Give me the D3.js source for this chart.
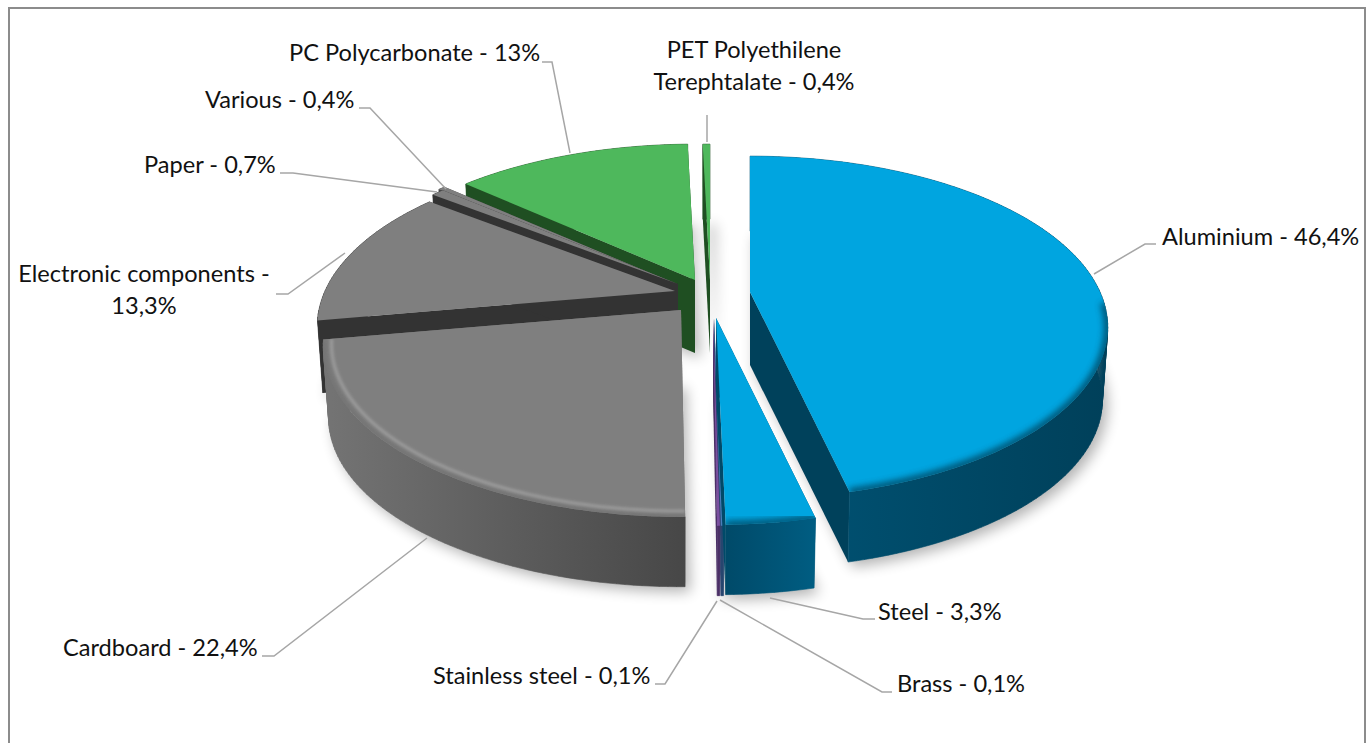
<!DOCTYPE html>
<html><head><meta charset="utf-8">
<script src="https://cdnjs.cloudflare.com/ajax/libs/d3/7.8.5/d3.min.js"></script>
<style>html,body{margin:0;padding:0;background:#fff;overflow:hidden}text{font-family:Lato,Carlito,sans-serif;font-size:23.6px;fill:#111}</style>
</head><body><svg id="c" width="1369" height="743"></svg>
<script>
const categories=["Aluminium","Steel","Brass","Stainless steel","Cardboard","Electronic components","Paper","Various","PC Polycarbonate","PET Polyethilene Terephtalate"];
const values=[46.4,3.3,0.1,0.1,22.4,13.3,0.7,0.4,13,0.4];
const valueLabels=["46,4%","3,3%","0,1%","0,1%","22,4%","13,3%","0,7%","0,4%","13%","0,4%"];

// layout only
const apex=[[750,292],[716,318],[714,319],[713,319],[681,310],[675,291],[678,284],[674,283],[695,280],[710,280]];
const tops=["#00a5e0","#00a5e0","#4a7ebb","#7a4fa0","#7f7f7f","#7f7f7f","#7f7f7f","#7f7f7f","#4eb85c","#4eb85c"];
const wallR=["#00415b","#004a69","#27466f","#4a2f66","#747474","#333333","#333333","#4a4a4a","#1f4f22","#1f4f22"];
const wallA=["#005476","#004a69","#27466f","#4a2f66","#747474","#333333","#333333","#4a4a4a","#1f4f22","#1f4f22"];
const wallB=["#00405a","#005d82","#27466f","#4a2f66","#474747","#333333","#333333","#4a4a4a","#1f4f22","#1f4f22"];
const drawOrder=[9,8,7,6,5,4,0,2,3,1];
const labelLines=[
 {x:1162,y:245,a:"start",t:["Aluminium - 46,4%"]},
 {x:878,y:620,a:"start",t:["Steel - 3,3%"]},
 {x:897,y:692,a:"start",t:["Brass - 0,1%"]},
 {x:433,y:684,a:"start",t:["Stainless steel - 0,1%"]},
 {x:63,y:656,a:"start",t:["Cardboard - 22,4%"]},
 {x:144,y:282,a:"middle",t:["Electronic components -","13,3%"]},
 {x:144,y:173,a:"start",t:["Paper - 0,7%"]},
 {x:205,y:108,a:"start",t:["Various - 0,4%"]},
 {x:289,y:61,a:"start",t:["PC Polycarbonate - 13%"]},
 {x:754,y:58,a:"middle",t:["PET Polyethilene","Terephtalate - 0,4%"]}];
const leaders=[
 [[1094,274],[1145,244],[1156,244]],
 [[770,598],[863,619],[875,619]],
 [[720,600],[882,692],[892,692]],
 [[717,601],[665,684],[655,684]],
 [[427,538],[274,656],[262,656]],
 [[345,253],[288,294],[276,294]],
 [[437,192],[293,173],[280,173]],
 [[446,189],[370,108],[359,108]],
 [[570,153],[552,62],[542,62]],
 [[707,142],[707,115]]];

const P=0.207, DEPTH=73, BOTTOM=0.985;
const sx=d3.scaleLinear().domain([-1,1]).range([-350,350]);
const sy=d3.scaleLinear().domain([-1,1]).range([-164,164]);
const rad=d3.scaleLinear().domain([0,1]).range([0,1]);
function proj(a,r,c,bottom){
  const u=rad(r)*Math.sin(a), v=-rad(r)*Math.cos(a), w=1-P*v, k=bottom?BOTTOM:1;
  return [c[0]+k*sx(u)/w, c[1]+k*sy(v)/w+(bottom?DEPTH:0)];
}
const line=d3.line();
const arcs=d3.pie().sort(null).value(d=>d)(values);
function samples(a0,a1){const n=Math.max(2,Math.ceil((a1-a0)/0.02));return d3.range(n+1).map(i=>a0+(a1-a0)*i/n);}

const svg=d3.select("#c");
const defs=svg.append("defs");
const blur=(id,s)=>defs.append("filter").attr("id",id).attr("x","-20%").attr("y","-20%").attr("width","140%").attr("height","140%").append("feGaussianBlur").attr("stdDeviation",s);
blur("shadow",7);blur("soft",3.2);blur("soft2",1.4);
arcs.forEach((d,i)=>{
  const g=defs.append("linearGradient").attr("id","w"+i).attr("gradientUnits","userSpaceOnUse");
  const xs=samples(d.startAngle,d.endAngle).map(a=>proj(a,1,apex[i])[0]);
  g.attr("x1",d3.min(xs)).attr("x2",d3.max(xs)).attr("y1",0).attr("y2",0);
  g.append("stop").attr("offset",0).attr("stop-color",wallA[i]);
  g.append("stop").attr("offset",1).attr("stop-color",wallB[i]);
  const cp=defs.append("clipPath").attr("id","t"+i);
  cp.append("path").attr("d",line([apex[i],...samples(d.startAngle,d.endAngle).map(a=>proj(a,1,apex[i]))])+"Z");
});

svg.append("rect").attr("x",9).attr("y",8).attr("width",1356).attr("height",760).attr("fill","#fff").attr("stroke","#8c8c8c").attr("stroke-width",2);

// soft shadow
const sh=svg.append("g").attr("filter","url(#shadow)").attr("opacity",0.3).attr("transform","translate(5,5)");
arcs.forEach((d,i)=>{
  sh.append("path").attr("fill","#000")
   .attr("d",line([[apex[i][0],apex[i][1]+DEPTH],...samples(d.startAngle,d.endAngle).map(a=>proj(a,1,apex[i],true))])+"Z");
});

const main=svg.append("g");
drawOrder.forEach(i=>{
  const d=arcs[i], c=apex[i], g=main.append("g").attr("class","slice");
  const c2=[c[0],c[1]+DEPTH];
  const as=samples(d.startAngle,d.endAngle);
  // radial walls
  [d.startAngle,d.endAngle].forEach(a=>{
    g.append("path").attr("fill",wallR[i])
     .attr("d",line([c,proj(a,1,c),proj(a,1,c,true),c2])+"Z");
  });
  // outer wall as quads, so the silhouette has no twist gaps
  g.append("path").attr("fill",`url(#w${i})`)
   .attr("d",d3.pairs(as).map(([a,b])=>line([proj(a,1,c),proj(b,1,c),proj(b,1,c,true),proj(a,1,c,true)])+"Z").join(""))
   .attr("stroke",`url(#w${i})`).attr("stroke-width",0.6);
  // top
  g.append("path").attr("fill",tops[i]).attr("d",line([c,...as.map(a=>proj(a,1,c))])+"Z");
  // bevel
  const rimG=g.append("g").attr("clip-path",`url(#t${i})`);
  const frontAs=as.filter(a=>-Math.cos(a)>0.05);
  if(frontAs.length>2 && [0,1,4].includes(i)){
    const rim=r=>line(frontAs.map(a=>proj(a,r,c)));
    rimG.append("path").attr("d",rim(1)).attr("fill","none").attr("stroke",i===4?"#5a5a5a":"#00425c")
      .attr("stroke-width",i===4?4:8).attr("filter","url(#soft)").attr("opacity",i===4?0.5:0.8);
    if(i===4){
      rimG.append("path").attr("d",line(frontAs.map(a=>proj(a,0.978,c)))).attr("fill","none").attr("stroke","#9e9e9e")
       .attr("stroke-width",3).attr("filter","url(#soft2)");
    }
  }
});

// leaders
svg.append("g").selectAll("path").data(leaders).join("path")
  .attr("d",d=>line(d)).attr("fill","none").attr("stroke","#a6a6a6").attr("stroke-width",1.5);

// labels
const lab=svg.append("g").selectAll("text").data(labelLines).join("text")
  .attr("text-anchor",d=>d.a).attr("x",d=>d.x).attr("y",d=>d.y);
lab.selectAll("tspan").data(d=>d.t.map((s,i)=>({s,i,x:d.x}))).join("tspan")
  .attr("x",d=>d.x).attr("dy",d=>d.i?32:0).text(d=>d.s);
</script></body></html>
